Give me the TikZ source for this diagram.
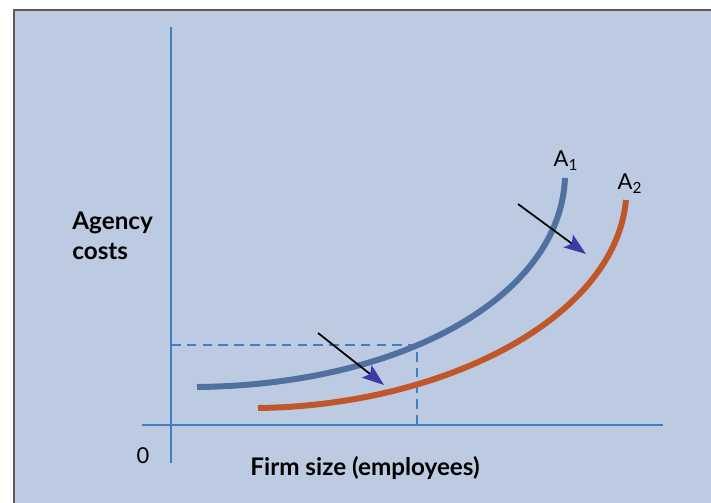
\documentclass[tikz,border=0pt]{standalone}
\usepackage{fontspec}
\setmainfont{Lato}
\usetikzlibrary{arrows.meta}
\definecolor{panel}{HTML}{BDCBE2}
\definecolor{axisblue}{HTML}{3F7FC3}
\definecolor{curveA}{HTML}{50709F}
\definecolor{curveB}{HTML}{C0572B}
\definecolor{tipblue}{HTML}{3A3AA8}
\definecolor{rim}{HTML}{5A5A5A}

\begin{document}
\begin{tikzpicture}[x=0.02cm,y=-0.02cm,
  axis/.style={axisblue,line width=1.3pt},
  guide/.style={axisblue,line width=1.1pt,dash pattern=on 5.5pt off 3.5pt},
  shiftarrow/.style={black,line width=1pt,-{Stealth[color=tipblue,length=12.5pt,width=9pt,inset=2.5pt]}},
  curve/.style={line width=3.4pt},
  lbl/.style={font=\fontsize{12.5}{15.3}\selectfont,inner sep=0pt},
  bold/.style={font=\fontsize{13.8}{15.3}\selectfont\bfseries}]
\useasboundingbox (0,0) rectangle (711,503);
\fill[panel] (14,10) rectangle (711,503);
\draw[rim,line width=0.9pt] (14,503) -- (14,10) -- (711,10);
% axes
\coordinate (o) at (171,425);
\coordinate (ytop) at (171,27);
\coordinate (ybot) at (171,463);
\coordinate (xl) at (142,425);
\coordinate (xr) at (663,425);
\draw[axis] (ybot) -- (ytop);
\draw[axis] (xl) -- (xr);
% dashed guide to curve A1
\coordinate (ymark) at (171,345);
\coordinate (pt) at (417,345);
\coordinate (xmark) at (417,425);
\draw[guide] (ymark) -- (pt) -- (xmark);
% the two curves
\draw[curveA,curve] (197,387) .. controls (400,385) and (560,298) .. (565,178);
\draw[curveB,curve] (258,408) .. controls (440,406) and (615,320) .. (626,200);
% shift arrows
\coordinate (s1) at (518,204);
\coordinate (e1) at (586,254);
\coordinate (s2) at (318,333);
\coordinate (e2) at (384,385);
\draw[shiftarrow] (s1) -- (e1);
\draw[shiftarrow] (s2) -- (e2);
% labels
\node[lbl] (a1) at (566,161) {A\textsubscript{1}};
\node[lbl] (a2) at (630,184) {A\textsubscript{2}};
\node[lbl,bold,align=left,anchor=north west] (ylab) at (72,212) {Agency\\[1.5pt]costs};
\node[lbl] (zero) at (143,456) {0};
\node[lbl,bold] (xlab) at (365,468) {Firm size (employees)};
\end{tikzpicture}
\end{document}
